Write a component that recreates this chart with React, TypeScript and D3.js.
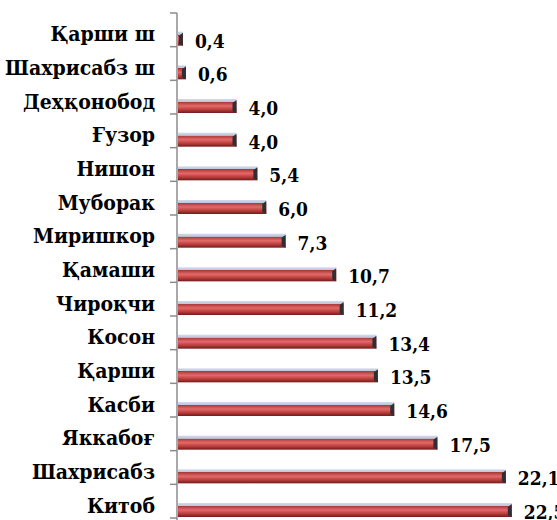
import React, { useRef, useEffect } from 'react';
import * as d3 from 'd3';

const districts = [
  'Қарши ш', 'Шахрисабз ш', 'Деҳқонобод', 'Ғузор', 'Нишон', 'Муборак', 'Миришкор',
  'Қамаши', 'Чироқчи', 'Косон', 'Қарши', 'Касби', 'Яккабоғ', 'Шахрисабз', 'Китоб',
];
const shares = [0.4, 0.6, 4.0, 4.0, 5.4, 6.0, 7.3, 10.7, 11.2, 13.4, 13.5, 14.6, 17.5, 22.1, 22.5];

const App = () => {
  const svgRef = useRef<SVGSVGElement>(null);

  useEffect(() => {
    const svg = d3.select(svgRef.current);
    const width = 557;
    const height = 520;
    const left = 177;

    svg.selectAll('*').remove();

    const rows = districts.map((name, i) => ({ name, value: shares[i] }));

    const x = d3.scaleLinear().domain([0, 25]).range([left, 549]);
    const y = d3.scaleBand().domain(districts).range([13, 518]).paddingInner(0).paddingOuter(0);

    const defs = svg.append('defs');
    const grad = defs.append('linearGradient')
      .attr('id', 'barGrad')
      .attr('x1', 0).attr('y1', 0).attr('x2', 0).attr('y2', 1);
    [
      ['0%', '#d3daea'], ['20%', '#bcc6dc'], ['22%', '#a93a3a'],
      ['50%', '#e36a68'], ['78%', '#b53a38'], ['100%', '#6e1c1c'],
    ].forEach(([o, c]) => grad.append('stop').attr('offset', o).attr('stop-color', c));

    // axis line + ticks
    const axis = svg.append('g');
    axis.append('line')
      .attr('x1', left).attr('x2', left)
      .attr('y1', 13).attr('y2', height)
      .attr('stroke', '#8c8c8c').attr('stroke-width', 1.5);
    const bounds = districts.map(d => y(d)!).concat([y.range()[1]]);
    axis.selectAll('.tick')
      .data(bounds)
      .enter()
      .append('line')
      .attr('x1', left - 7).attr('x2', left)
      .attr('y1', d => d).attr('y2', d => d)
      .attr('stroke', '#8c8c8c').attr('stroke-width', 1.5);

    const barH = 14;
    const bars = svg.selectAll('.bar')
      .data(rows)
      .enter()
      .append('g')
      .attr('class', 'bar');

    bars.append('rect')
      .attr('x', left + 1)
      .attr('y', d => y(d.name)! + y.bandwidth() - barH - 1)
      .attr('width', d => x(d.value) - left - 1)
      .attr('height', barH)
      .attr('fill', 'url(#barGrad)');

    // dark bevelled end cap
    bars.append('polygon')
      .attr('points', d => {
        const x1 = x(d.value);
        const y0 = y(d.name)! + y.bandwidth() - barH - 1;
        const w = Math.min(4, x1 - left - 1);
        return `${x1 - w},${y0 + 4} ${x1},${y0 + 1} ${x1},${y0 + barH} ${x1 - w},${y0 + barH - 2}`;
      })
      .attr('fill', '#2e2e33');

    // category labels
    svg.selectAll('.cat')
      .data(rows)
      .enter()
      .append('text')
      .attr('class', 'cat')
      .attr('x', 155)
      .attr('y', d => y(d.name)! + y.bandwidth() / 2 + 4)
      .attr('text-anchor', 'end')
      .attr('dominant-baseline', 'central')
      .attr('font-family', "'DejaVu Serif', serif")
      .attr('font-weight', 'bold')
      .attr('font-size', 21)
      .style('font-stretch', 'condensed')
      .attr('fill', '#000')
      .text(d => d.name);

    // value labels
    svg.selectAll('.val')
      .data(rows)
      .enter()
      .append('text')
      .attr('class', 'val')
      .attr('x', d => x(d.value) + 12)
      .attr('y', d => y(d.name)! + y.bandwidth() - barH / 2 + 1)
      .attr('dominant-baseline', 'central')
      .attr('font-family', "'DejaVu Serif', serif")
      .attr('font-weight', 'bold')
      .attr('font-size', 19)
      .style('font-stretch', 'condensed')
      .attr('fill', '#000')
      .text(d => d3.format('.1f')(d.value).replace('.', ','));

    svg.attr('width', width).attr('height', height);
  }, []);

  return (
    <svg ref={svgRef} width={557} height={520}
      style={{ position: 'absolute', left: 0, top: 0, background: '#fff' }}></svg>
  );
};

export default App;
